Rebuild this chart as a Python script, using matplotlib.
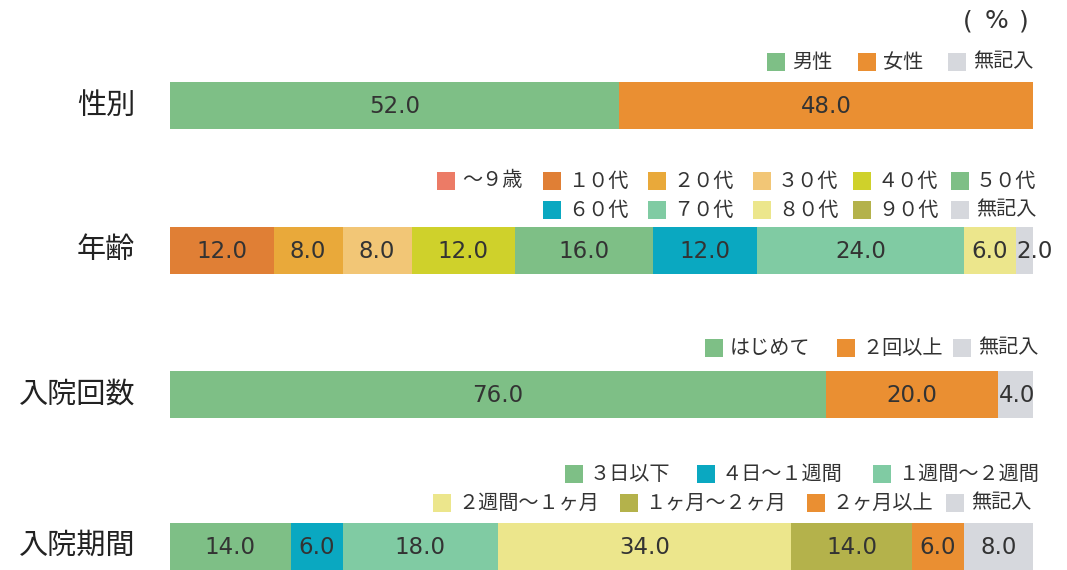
import numpy as np
import matplotlib.pyplot as plt
from matplotlib.patches import Rectangle

plt.rcParams['font.family'] = ['Noto Sans CJK JP', 'DejaVu Sans']

# data (%)
sex_labels = ['男性', '女性', '無記入']
sex_values = [52.0, 48.0, 0.0]

age_labels = ['～９歳', '１０代', '２０代', '３０代', '４０代', '５０代',
              '６０代', '７０代', '８０代', '９０代', '無記入']
age_values = [0.0, 12.0, 8.0, 8.0, 12.0, 16.0, 12.0, 24.0, 6.0, 0.0, 2.0]

adm_labels = ['はじめて', '２回以上', '無記入']
adm_values = [76.0, 20.0, 4.0]

dur_labels = ['３日以下', '４日～１週間', '１週間～２週間', '２週間～１ヶ月',
              '１ヶ月～２ヶ月', '２ヶ月以上', '無記入']
dur_values = [14.0, 6.0, 18.0, 34.0, 14.0, 6.0, 8.0]

row_names = ['性別', '年齢', '入院回数', '入院期間']

# colours
GREEN = '#7ebf86'
ORANGE = '#ea8f32'
GRAY = '#d6d8dd'
TEAL = '#0aa8c1'
MINT = '#80cba3'
LYELLOW = '#ece68c'
OLIVE = '#b4b24b'

sex_colors = [GREEN, ORANGE, GRAY]
age_colors = ['#ec7b66', '#e07f35', '#e9a93a', '#f2c676', '#cfd12b', GREEN,
              TEAL, MINT, LYELLOW, OLIVE, GRAY]
adm_colors = [GREEN, ORANGE, GRAY]
dur_colors = [GREEN, TEAL, MINT, LYELLOW, OLIVE, ORANGE, GRAY]

# layout (pixels)
W, H = 1067, 570
row_y = [105.5, 250.5, 394.5, 546]
bar_h = 47
legend_pos = [
    ([767, 858, 948], [62] * 3),
    ([437, 543, 648, 753, 853, 951, 543, 648, 753, 853, 951], [181] * 6 + [210] * 5),
    ([705, 837, 953], [348] * 3),
    ([565, 697, 873, 433, 620, 807, 946], [474] * 3 + [503] * 4),
]
num_font = ['DejaVu Sans']

fig = plt.figure(figsize=(W / 100, H / 100), dpi=100)
fig.patch.set_facecolor('white')

ov = fig.add_axes([0, 0, 1, 1])
ov.set_xlim(0, W)
ov.set_ylim(H, 0)
ov.axis('off')

ax = fig.add_axes([170 / W, 0, 863 / W, 1])
ax.set_xlim(0, 100)
ax.set_ylim(H, 0)
ax.axis('off')

groups = [
    (sex_labels, sex_values, sex_colors),
    (age_labels, age_values, age_colors),
    (adm_labels, adm_values, adm_colors),
    (dur_labels, dur_values, dur_colors),
]

for i, (labels, values, colors) in enumerate(groups):
    y = row_y[i]
    vals = np.array(values)
    lefts = np.concatenate([[0], np.cumsum(vals)[:-1]])
    ax.barh(y, vals, left=lefts, height=bar_h, color=colors, linewidth=0)
    for v, l in zip(vals, lefts):
        if v <= 0:
            continue
        if v < 5:
            # narrow segment: label starts at the segment's left edge
            ax.text(l + 0.1, y + 1, f'{v:.1f}', ha='left', va='center',
                    fontsize=16.5, color='#333333', family=num_font)
        else:
            ax.text(l + v / 2, y + 1, f'{v:.1f}', ha='center', va='center',
                    fontsize=16.5, color='#333333', family=num_font)
    ov.text(135, y, row_names[i], ha='right', va='center', fontsize=21,
            color='#222222')
    # legend
    xs, ys = legend_pos[i]
    for lab, c, lx, ly in zip(labels, colors, xs, ys):
        ov.add_patch(Rectangle((lx, ly - 9), 18, 18, color=c, lw=0))
        ov.text(lx + 25, ly, lab, ha='left', va='center', fontsize=14.5,
                color='#333333')

# unit "(%)"
ov.text(963, 21, '(', ha='left', va='center', fontsize=18, color='#333333', family=num_font)
ov.text(996, 21, '%', ha='center', va='center', fontsize=18, color='#333333', family=num_font)
ov.text(1029, 21, ')', ha='right', va='center', fontsize=18, color='#333333', family=num_font)

fig.savefig('out.png', dpi=100, facecolor='white')
